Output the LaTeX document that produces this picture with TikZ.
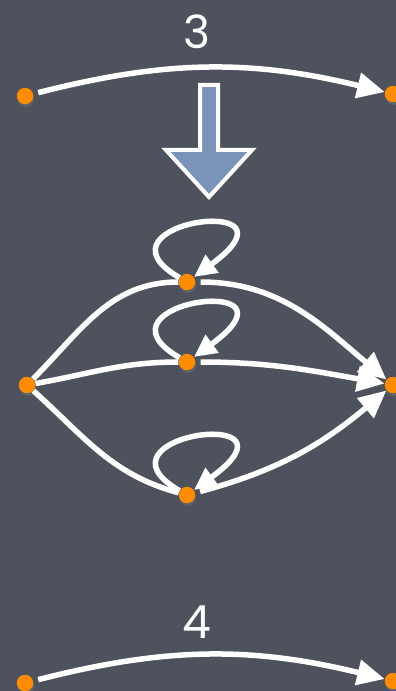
\documentclass[tikz,border=0pt]{standalone}
\usepackage{fontspec}
\setmainfont{Poppins}
\usepackage{tikz}
\usetikzlibrary{
  arrows.meta,
  shadows
}
\definecolor{chBoard}{HTML}{4E525D}
\definecolor{chDot}{HTML}{FF8C00}
\definecolor{chArrow}{HTML}{7B93B9}
\definecolor{chChalk}{HTML}{FFFFFF}
\tikzset{
  dot/.style={
    circle, fill=chDot, inner sep=0pt, minimum size=0.33cm,
    drop shadow={shadow xshift=0.5pt, shadow yshift=-1.5pt, opacity=0.35}
  },
  edge/.style={
    draw=chChalk, line width=0.11cm, shorten <=0.1cm,
    -{Triangle[length=0.55cm, width=0.5cm]}
  },
  selfloop/.style={edge, shorten <=0pt, -{Triangle[length=0.45cm, width=0.42cm]}},
  numlabel/.style={text=chChalk, font=\fontsize{26}{30}\selectfont},
  bigarrow/.style={fill=chArrow, draw=chChalk, line width=0.08cm, line join=miter}
}
\begin{document}
\begin{tikzpicture}[x=0.02cm, y=0.02cm]
  \useasboundingbox (0,0) rectangle (396,691);
  \fill[chBoard] (0,0) rectangle (396,691);

  % before: one edge of weight 3
  \node[numlabel] (lbl3) at (197,659) {3};
  \node[dot] (a3) at (25,595) {};
  \node[dot] (b3) at (393,597) {};
  \draw[edge] (a3) to[bend left=14] (b3);

  % the big down arrow
  \draw[bigarrow] (200,606) -- (218,606) -- (218,541) -- (252,541)
    -- (209,494) -- (166,541) -- (200,541) -- cycle;

  % after: three paths through looped nodes
  \node[dot] (src) at (27,306) {};
  \node[dot] (dst) at (393,306) {};
  \node[dot] (top) at (187,409) {};
  \node[dot] (mid) at (187,329) {};
  \node[dot] (bot) at (187,196) {};

  \draw[edge] (src) to[out=45, in=180] (top) to[out=0, in=140] (dst);
  \draw[edge] (src) to[out=10, in=180] (mid) to[out=0, in=170] (dst);
  \draw[edge] (src) to[out=-42, in=165] (bot) to[out=15, in=-140] (dst);

  \draw[selfloop] (top) .. controls +(150:120) and +(36:155) .. (top);
  \draw[selfloop] (mid) .. controls +(150:120) and +(36:155) .. (mid);
  \draw[selfloop] (bot) .. controls +(150:120) and +(36:155) .. (bot);

  % bottom: one edge of weight 4
  \node[numlabel] (lbl4) at (197,69) {4};
  \node[dot] (a4) at (25,8) {};
  \node[dot] (b4) at (393,10) {};
  \draw[edge] (a4) to[bend left=14] (b4);
\end{tikzpicture}
\end{document}
